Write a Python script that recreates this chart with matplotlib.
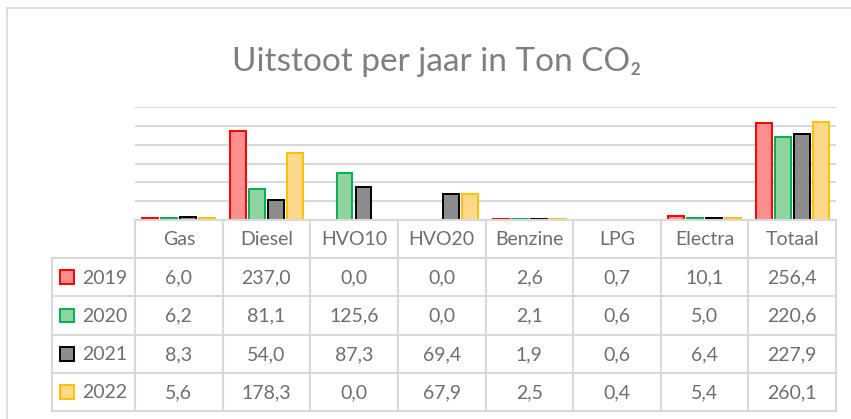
import matplotlib.pyplot as plt
from matplotlib.lines import Line2D
from matplotlib.patches import Rectangle
import numpy as np

plt.rcParams['font.family'] = ['Lato', 'DejaVu Sans']

categories = ['Gas', 'Diesel', 'HVO10', 'HVO20', 'Benzine', 'LPG', 'Electra', 'Totaal']
years = ['2019', '2020', '2021', '2022']
v2019 = [6.0, 237.0, 0.0, 0.0, 2.6, 0.7, 10.1, 256.4]
v2020 = [6.2, 81.1, 125.6, 0.0, 2.1, 0.6, 5.0, 220.6]
v2021 = [8.3, 54.0, 87.3, 69.4, 1.9, 0.6, 6.4, 227.9]
v2022 = [5.6, 178.3, 0.0, 67.9, 2.5, 0.4, 5.4, 260.1]
series = [v2019, v2020, v2021, v2022]

fills = ['#FF8E8E', '#8FD3A0', '#8C8C8C', '#FFD88A']
edges = ['#FF0000', '#00B050', '#000000', '#FFC000']
grid_c = '#D9D9D9'
text_c = '#6E6E6E'

W, H = 851, 419
fig = plt.figure(figsize=(W / 100, H / 100), dpi=100)

# chart frame (only top and left visible in the crop)
fig.add_artist(Line2D([7 / W, 7 / W], [0, 1 - 8.5 / H], color=grid_c, lw=1.2))
fig.add_artist(Line2D([7 / W, 1], [1 - 8.5 / H, 1 - 8.5 / H], color=grid_c, lw=1.2))

fig.text(437 / W, 1 - 62 / H, 'Uitstoot per jaar in Ton CO₂', ha='center', va='center',
         fontsize=24, color='#7F7F7F', fontweight='normal')

# bar plot area
left, right = 135, 836
ax = fig.add_axes([left / W, (H - 220) / H, (right - left) / W, (220 - 107) / H])
x = np.arange(len(categories))
step = 0.217
bw = 0.18
for i, vals in enumerate(series):
    ax.bar(x + (i - 1.5) * step, vals, width=bw, color=fills[i], edgecolor=edges[i],
           linewidth=1.4, zorder=3)
ax.set_xlim(-0.5, len(categories) - 0.5)
ax.set_ylim(0, 300)
ax.set_yticks(np.arange(0, 301, 50))
ax.yaxis.grid(True, color=grid_c, lw=1.5)
ax.set_axisbelow(True)
ax.tick_params(left=False, bottom=False, labelleft=False, labelbottom=False)
for s in ax.spines.values():
    s.set_visible(False)

# data table below
tax = fig.add_axes([left / W, (H - 411) / H, (right - left) / W, (411 - 220) / H])
tax.set_xlim(-0.5, len(categories) - 0.5)
tax.set_ylim(5, 0)
tax.axis('off')
lab_left = -0.5 - (135 - 52) / 87.6
lc = dict(color=grid_c, lw=1.5, clip_on=False)

# horizontal lines
tax.plot([-0.5, 7.5], [0, 0], **lc)
for r in range(1, 6):
    tax.plot([lab_left, 7.5], [r, r], **lc)
# vertical lines
tax.plot([lab_left, lab_left], [1, 5], **lc)
for c in range(len(categories) + 1):
    tax.plot([c - 0.5, c - 0.5], [0, 5], **lc)

fs = 14
for c, name in enumerate(categories):
    tax.text(c, 0.52, name, ha='center', va='center', fontsize=fs, color=text_c)
for r, vals in enumerate(series):
    for c, v in enumerate(vals):
        tax.text(c, r + 1.52, f'{v:.1f}'.replace('.', ','), ha='center', va='center',
                 fontsize=fs, color=text_c)
    tax.text(-0.5 - 8 / 87.6, r + 1.52, years[r], ha='right', va='center',
             fontsize=fs, color=text_c)
    kx = lab_left + 8 / 87.6
    tax.add_patch(Rectangle((kx, r + 1.5 - 0.18), 14 / 87.6, 0.36, facecolor=fills[r],
                            edgecolor=edges[r], lw=1.4, clip_on=False))

fig.savefig('out.png', dpi=100)
